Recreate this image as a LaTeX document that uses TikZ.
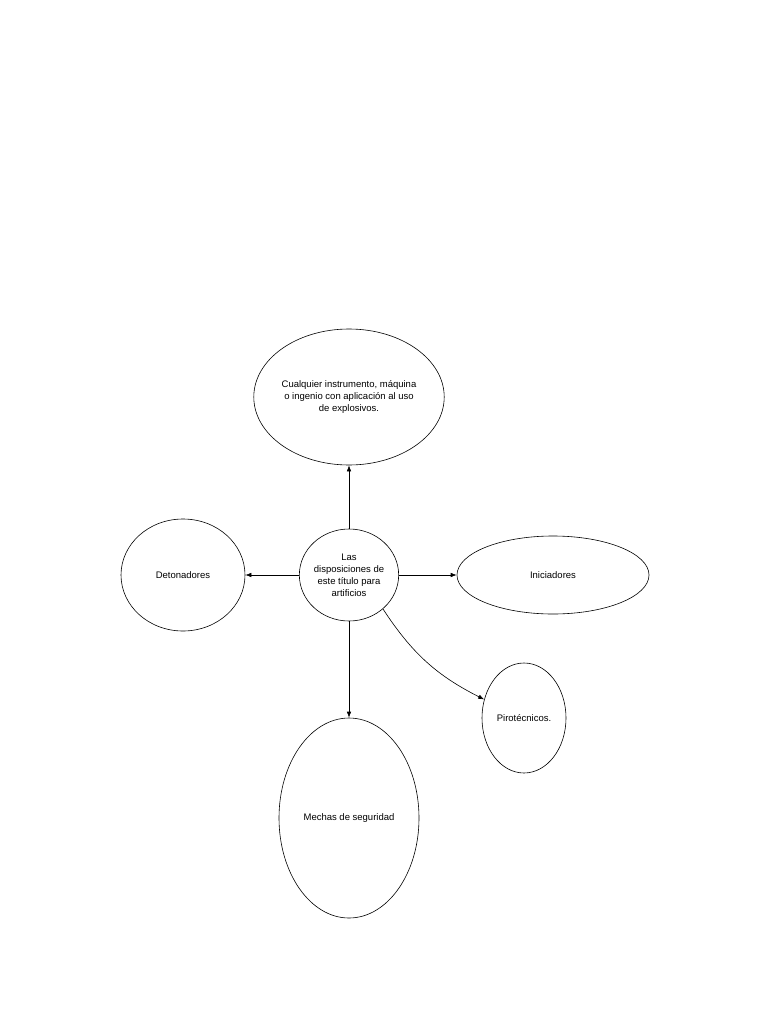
\documentclass[tikz,border=0pt]{standalone}
\usepackage{fontspec}
\setmainfont{Liberation Sans}
\usetikzlibrary{shapes.geometric,arrows.meta}
\begin{document}
\begin{tikzpicture}[x=1pt,y=-1pt,
  ell/.style={draw,ellipse,inner sep=0pt,align=center,font=\fontsize{9.5}{12}\selectfont,line width=0.6pt},
  arr/.style={-{Latex[length=6pt,width=4.5pt]},line width=0.6pt}]
\useasboundingbox (0,0) rectangle (768,1024);
\node[ell,minimum width=176pt,minimum height=136pt] (top) at (349,397) {Cualquier instrumento, máquina\\o ingenio con aplicación al uso\\de explosivos.};
\node[ell,minimum width=90pt,minimum height=92pt] (c) at (349,575) {Las\\disposiciones de\\este título para\\artificios};
\node[ell,minimum width=124pt,minimum height=112pt] (det) at (183,575) {Detonadores};
\node[ell,minimum width=192pt,minimum height=78pt] (ini) at (553,575) {Iniciadores};
\node[ell,minimum width=84pt,minimum height=110pt] (pir) at (524,718) {Pirotécnicos.};
\node[ell,minimum width=140pt,minimum height=200pt] (mec) at (349,818) {Mechas de seguridad};
\draw[arr] (c) -- (top);
\draw[arr] (c) -- (det);
\draw[arr] (c) -- (ini);
\draw[arr] (c) -- (mec);
\draw[arr] (c.-45) to[bend right=15] (pir.155);
\end{tikzpicture}
\end{document}
